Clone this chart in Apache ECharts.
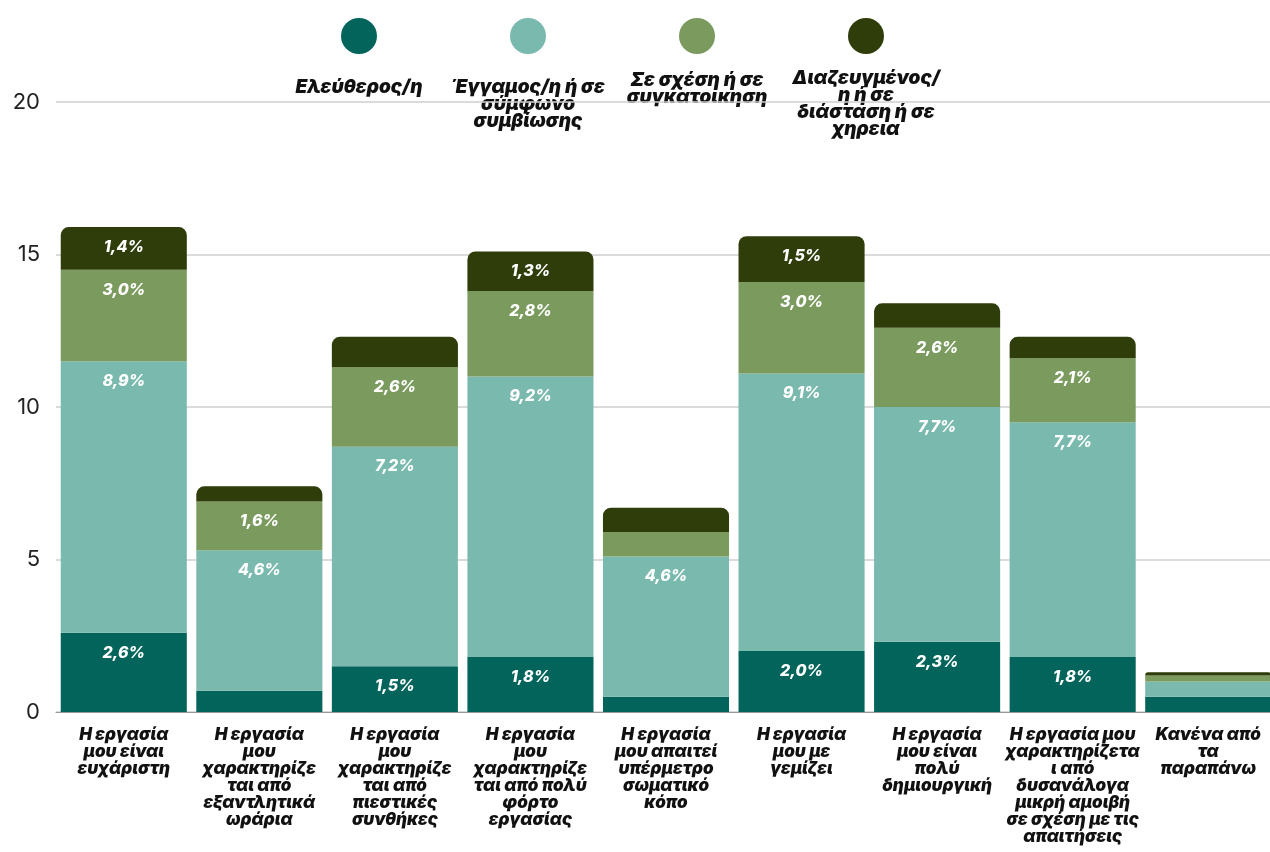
<!DOCTYPE html>
<html><head><meta charset="utf-8">
<script src="https://cdn.jsdelivr.net/npm/echarts@6/dist/echarts.min.js"></script>
<style>html,body{margin:0;padding:0;background:#fff;overflow:hidden}#c{width:1276px;height:852px}</style>
</head><body><div id="c"></div>
<script>
const categories = [
  "Η εργασία\nμου είναι\nευχάριστη",
  "Η εργασία\nμου\nχαρακτηρίζε\nται από\nεξαντλητικά\nωράρια",
  "Η εργασία\nμου\nχαρακτηρίζε\nται από\nπιεστικές\nσυνθήκες",
  "Η εργασία\nμου\nχαρακτηρίζε\nται από πολύ\nφόρτο\nεργασίας",
  "Η εργασία\nμου απαιτεί\nυπέρμετρο\nσωματικό\nκόπο",
  "Η εργασία\nμου με\nγεμίζει",
  "Η εργασία\nμου είναι\nπολύ\nδημιουργική",
  "Η εργασία μου\nχαρακτηρίζετα\nι από\nδυσανάλογα\nμικρή αμοιβή\nσε σχέση με τις\nαπαιτήσεις",
  "Κανένα από\nτα\nπαραπάνω"
];
const seriesNames = ["Ελεύθερος/η", "Έγγαμος/η ή σε σύμφωνο συμβίωσης", "Σε σχέση ή σε συγκατοικηση", "Διαζευγμένος/η ή σε διάσταση ή σε χηρεια"];
const legendLabels = ["Ελεύθερος/η", "Έγγαμος/η ή σε\nσύμφωνο\nσυμβίωσης", "Σε σχέση ή σε\nσυγκατοικηση", "Διαζευγμένος/\nη ή σε\nδιάσταση ή σε\nχηρεια"];
const single = [2.6, 0.7, 1.5, 1.8, 0.5, 2.0, 2.3, 1.8, 0.5];
const married = [8.9, 4.6, 7.2, 9.2, 4.6, 9.1, 7.7, 7.7, 0.5];
const relationship = [3.0, 1.6, 2.6, 2.8, 0.8, 3.0, 2.6, 2.1, 0.2];
const divorced = [1.4, 0.5, 1.0, 1.3, 0.8, 1.5, 0.8, 0.7, 0.1];
const yTicks = [0, 5, 10, 15, 20];
const colors = ["#02645A", "#7AB9AD", "#7A9A5E", "#2E3D0A"];

const FONT = "Inter, 'Liberation Sans', sans-serif";
const chart = echarts.init(document.getElementById('c'));
const values = [single, married, relationship, divorced];
const legendCenters = [359, 528, 697, 866];
const legendTextTop = [78, 78, 71, 69];

const series = values.map((arr, i) => ({
  name: seriesNames[i],
  type: 'bar',
  stack: 'total',
  barCategoryGap: '7%',
  data: arr,
  itemStyle: { color: colors[i], borderRadius: i === 3 ? [8, 8, 0, 0] : 0 },
  label: {
    show: true,
    position: 'insideTop',
    distance: 12,
    color: '#fff',
    fontFamily: 'Inter, sans-serif',
    fontWeight: 800,
    fontStyle: 'italic',
    fontSize: 16,
    formatter: p => p.value >= 1.2 ? p.value.toFixed(1).replace('.', ',') + '%' : ''
  }
}));

const option = {
  animation: false,
  grid: { left: 56, right: 0, top: 102, bottom: 140, containLabel: false },
  legend: seriesNames.map((n, i) => ({
    data: [n],
    left: legendCenters[i] - 18,
    top: 18,
    padding: 0,
    icon: 'circle',
    itemWidth: 36,
    itemHeight: 36,
    formatter: () => '',
    selectedMode: false
  })),
  graphic: legendLabels.map((t, i) => ({
    type: 'text',
    left: legendCenters[i] - 80,
    top: legendTextTop[i],
    style: {
      text: t,
      width: 160,
      align: 'center',
      x: 80,
      textAlign: 'center',
      font: "italic 900 19px " + FONT,
      lineHeight: 17,
      fill: '#111'
    }
  })),
  xAxis: {
    type: 'category',
    data: categories,
    axisTick: { show: false },
    axisLine: { lineStyle: { color: '#999', width: 1 } },
    axisLabel: {
      interval: 0,
      margin: 14,
      color: '#111',
      fontFamily: FONT,
      fontWeight: 900,
      fontStyle: 'italic',
      fontSize: 17,
      lineHeight: 17
    }
  },
  yAxis: {
    type: 'value',
    min: 0, max: 20, interval: 5,
    axisLabel: { color: '#222', fontFamily: 'Inter, sans-serif', fontSize: 22, margin: 16,
      formatter: v => yTicks.includes(v) ? String(v) : '' },
    splitLine: { lineStyle: { color: '#cfcfcf', width: 1.5 } },
    axisLine: { show: false },
    axisTick: { show: false }
  },
  series: series
};
chart.setOption(option);
</script></body></html>
